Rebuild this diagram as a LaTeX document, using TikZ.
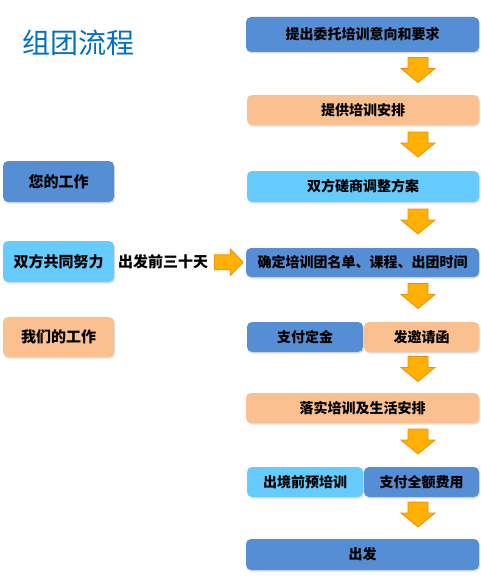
\documentclass[tikz,border=0pt]{standalone}
\usepackage{fontspec}
\newfontfamily\cjk{Noto Sans CJK SC}
\usetikzlibrary{calc,shadows}
\definecolor{dblue}{HTML}{558ED5}
\definecolor{peach}{HTML}{FAC090}
\definecolor{lblue}{HTML}{66CCFF}
\definecolor{ttl}{HTML}{0070C0}
\definecolor{arfill}{HTML}{FFB000}
\definecolor{ardraw}{HTML}{F08C10}
\tikzset{
  box/.style={rectangle, rounded corners=5pt, inner sep=0pt, draw=none,
    font=\cjk\bfseries\fontsize{14}{16}\selectfont, text=black,
    drop shadow={shadow xshift=1pt, shadow yshift=-1.5pt, opacity=0.25}},
  sidebox/.style={box, minimum width=111pt, minimum height=41pt,
    font=\cjk\bfseries\fontsize{15}{17}\selectfont},
  blockarrow/.style={fill=arfill, draw=ardraw, line width=0.8pt, line join=miter}
}
\newcommand{\downarr}[1]{%
  \draw[blockarrow] ($(#1)+(-10,-16)$) -- ++(20,0) -- ++(0,11) -- ++(7,0)
    -- ++(-17,14) -- ++(-17,-14) -- ++(7,0) -- cycle;}
\begin{document}
\begin{tikzpicture}[x=1pt,y=-1pt]
\useasboundingbox[fill=white] (0,0) rectangle (480,586);
\node[text=ttl, font=\cjk\fontsize{28}{30}\selectfont] (title) at (78,43) {组团流程};
% right column
\node[box, fill=dblue, minimum width=233pt, minimum height=35pt] (b1) at (362.5,34.5) {提出委托培训意向和要求};
\node[box, fill=peach, minimum width=232pt, minimum height=30pt] (b2) at (363,110) {提供培训安排};
\node[box, fill=lblue, minimum width=232pt, minimum height=31pt] (b3) at (363,186.5) {双方磋商调整方案};
\node[box, fill=dblue, minimum width=233pt, minimum height=29pt] (b4) at (362.5,262.5) {确定培训团名单、课程、出团时间};
\node[box, fill=dblue, minimum width=116pt, minimum height=30pt] (b5a) at (305,337) {支付定金};
\node[box, fill=peach, minimum width=115pt, minimum height=30pt] (b5b) at (421.5,337) {发邀请函};
\node[box, fill=peach, minimum width=233pt, minimum height=30pt] (b6) at (362.5,408) {落实培训及生活安排};
\node[box, fill=lblue, minimum width=116pt, minimum height=30pt] (b7a) at (305,482) {出境前预培训};
\node[box, fill=dblue, minimum width=115pt, minimum height=30pt] (b7b) at (421.5,482) {支付全额费用};
\node[box, fill=dblue, minimum width=233pt, minimum height=31pt] (b8) at (362.5,554.5) {出发};
% left column
\node[sidebox, fill=dblue] (l1) at (58.5,181.5) {您的工作};
\node[sidebox, fill=lblue] (l2) at (58.5,261.5) {双方共同努力};
\node[sidebox, fill=peach, minimum height=40pt] (l3) at (58.5,337) {我们的工作};
\node[font=\cjk\bfseries\fontsize{15}{17}\selectfont] (t30) at (163,262) {出发前三十天};
% down arrows in column x = 418
\coordinate (col) at (418,0);
\coordinate (m1) at ($(b1.south)!0.5!(b2.north)$);
\coordinate (m2) at ($(b2.south)!0.5!(b3.north)$);
\coordinate (m3) at ($(b3.south)!0.5!(b4.north)$);
\coordinate (m4) at ($(b4.south)!0.5!(b5b.north)$);
\coordinate (m5) at ($(b5b.south)!0.5!(b6.north)$);
\coordinate (m6) at ($(b6.south)!0.5!(b7b.north)$);
\coordinate (m7) at ($(b7b.south)!0.5!(b8.north)$);
\foreach \m in {m1,m2,m3,m4,m5,m6,m7} {\coordinate (a\m) at (col |- \m); \downarr{a\m}}
% right arrow
\coordinate (ra) at ($(t30.east)!0.5!(b4.west)$);
\draw[blockarrow] ($(ra)+(-14.5,-7.5)$) -- ++(16,0) -- ++(0,-6) -- ++(13,13.5)
  -- ++(-13,13.5) -- ++(0,-6) -- ++(-16,0) -- cycle;
\end{tikzpicture}
\end{document}
